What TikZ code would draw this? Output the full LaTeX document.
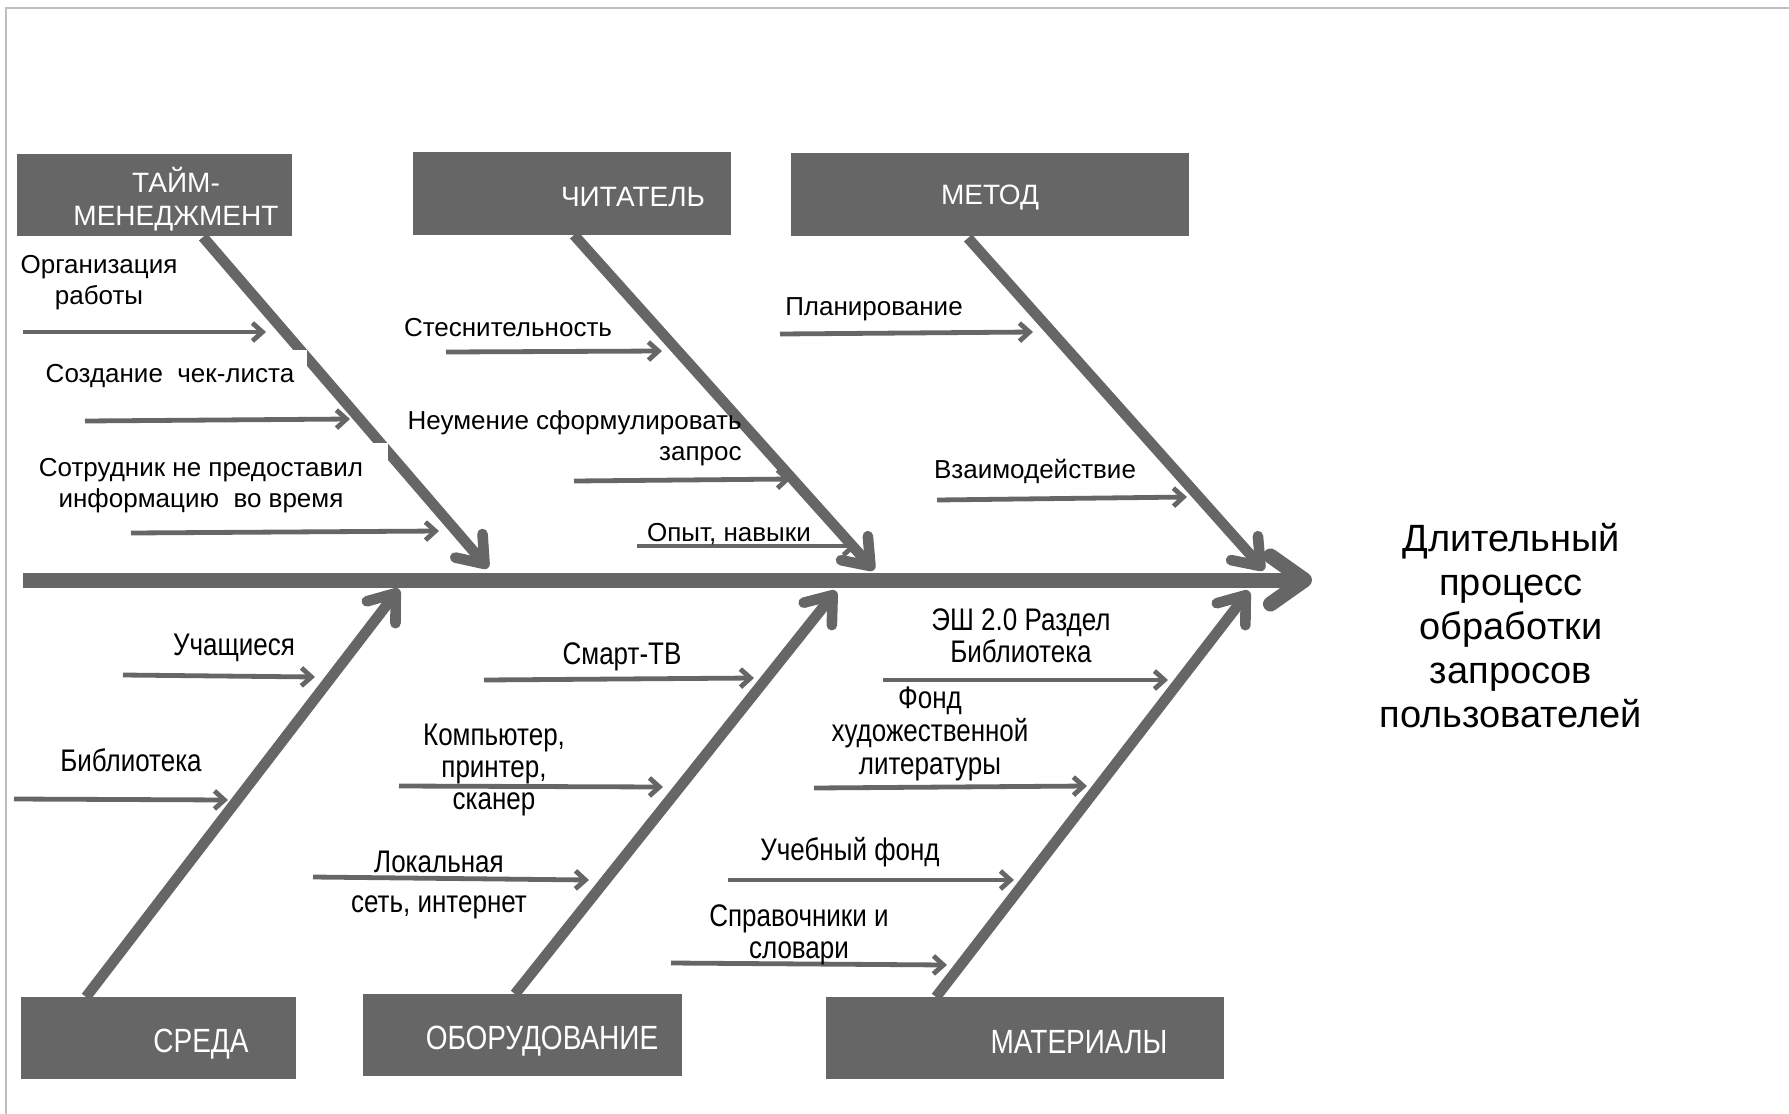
\documentclass[tikz,border=0pt]{standalone}
\usepackage{fontspec}
\usepackage{graphicx}
\setmainfont{Liberation Sans}
\usetikzlibrary{arrows.meta}
\definecolor{bone}{HTML}{666666}
\definecolor{framecol}{HTML}{BFBFBF}
\newcommand{\tallc}[1]{\scalebox{1}[1.2]{\begin{tabular}{@{}c@{}}#1\end{tabular}}}
\begin{document}
\begin{tikzpicture}[x=0.5pt,y=-0.5pt,
  catbox/.style={fill=bone, draw=none, inner sep=0pt},
  cattext/.style={text=white, font=\fontsize{14}{16.5}\selectfont, align=center, inner sep=0pt},
  tallcat/.style={text=white, font=\fontsize{14}{14}\selectfont, inner sep=0pt},
  causetext/.style={font=\fontsize{13}{15.5}\selectfont, align=center, inner sep=0pt},
  tallcause/.style={font=\fontsize{13}{13.5}\selectfont, inner sep=0pt},
  spinestyle/.style={draw=bone, line width=7.5pt, -{Straight Barb[length=17pt,width=24pt,round]}},
  bonestyle/.style={draw=bone, line width=5.3pt, -{Straight Barb[length=12pt,width=18pt,round]}},
  substyle/.style={draw=bone, line width=2.4pt, -{Straight Barb[length=5pt,width=9pt]}},
]
\useasboundingbox (0,0) rectangle (1789,1114);
\fill[white] (0,0) rectangle (1789,1114);
\draw[framecol, line width=1pt] (6,1114) -- (6,8) -- (1789,8);

% spine
\coordinate (spL) at (23,580);
\coordinate (spR) at (1312,580);
\draw[spinestyle] (spL) -- (spR);

% bone coordinates
\coordinate (As) at (203,237); \coordinate (Ae) at (488,568);
\coordinate (Bs) at (574,235); \coordinate (Be) at (874,570);
\coordinate (Cs) at (968,238); \coordinate (Ce) at (1264,570);
\coordinate (Ds) at (86,997);  \coordinate (De) at (399,589);
\coordinate (Es) at (515,994); \coordinate (Ee) at (836,591);
\coordinate (Fs) at (936,997); \coordinate (Fe) at (1249,591);
\draw[bonestyle] (As) -- (Ae);
\draw[bonestyle] (Bs) -- (Be);
\draw[bonestyle] (Cs) -- (Ce);
\draw[bonestyle] (Ds) -- (De);
\draw[bonestyle] (Es) -- (Ee);
\draw[bonestyle] (Fs) -- (Fe);

% white cuts in the first bone
\fill[white] (40,350) rectangle (307,395);
\fill[white] (30,443) rectangle (388,510);

% category boxes
\node[catbox, minimum width=137.5pt, minimum height=41pt] (bT) at (154.5,195) {};
\node[catbox, minimum width=159pt, minimum height=41.5pt] (bR) at (572,193.5) {};
\node[catbox, minimum width=199pt, minimum height=41.5pt] (bM) at (990,194.5) {};
\node[catbox, minimum width=137.5pt, minimum height=41pt] (bS) at (158.5,1038) {};
\node[catbox, minimum width=159.5pt, minimum height=41pt] (bO) at (522.5,1035) {};
\node[catbox, minimum width=199pt, minimum height=41pt] (bMa) at (1025,1038) {};

\node[cattext] (tT) at (176,199) {ТАЙМ-\\МЕНЕДЖМЕНТ};
\node[cattext] (tR) at (633,197) {ЧИТАТЕЛЬ};
\node[cattext] (tM) at (990,198) {МЕТОД};
\node[tallcat] (tS) at (201,1044) {\scalebox{1}[1.2]{СРЕДА}};
\node[tallcat] (tO) at (542,1041) {\scalebox{1}[1.2]{ОБОРУДОВАНИЕ}};
\node[tallcat] (tMa) at (1079,1042) {\scalebox{1}[1.2]{МАТЕРИАЛЫ}};

% sub-cause arrows
\coordinate (a1) at (23,332);  \coordinate (b1) at (266,332);
\coordinate (a2) at (85,421);  \coordinate (b2) at (350,419);
\coordinate (a3) at (131,533); \coordinate (b3) at (439,531);
\coordinate (a4) at (446,352); \coordinate (b4) at (662,351);
\coordinate (a5) at (574,481); \coordinate (b5) at (791,479);
\coordinate (a6) at (637,546); \coordinate (b6) at (857,546);
\coordinate (a7) at (780,334); \coordinate (b7) at (1033,332);
\coordinate (a8) at (937,500); \coordinate (b8) at (1187,497);
\coordinate (a9) at (123,675); \coordinate (b9) at (315,677);
\coordinate (a10) at (14,799); \coordinate (b10) at (228,800);
\coordinate (a11) at (484,680); \coordinate (b11) at (754,678);
\coordinate (a12) at (399,786); \coordinate (b12) at (663,787);
\coordinate (a13) at (313,877); \coordinate (b13) at (589,880);
\coordinate (a14) at (883,680); \coordinate (b14) at (1168,680);
\coordinate (a15) at (814,788); \coordinate (b15) at (1087,786);
\coordinate (a16) at (728,880); \coordinate (b16) at (1014,880);
\coordinate (a17) at (671,963); \coordinate (b17) at (947,965);
\foreach \i in {1,...,17} { \draw[substyle] (a\i) -- (b\i); }

% sub-cause texts
\node[causetext] (c1) at (99,283) {Организация\\работы};
\node[causetext] (c2) at (170,376) {Создание\ \ чек-листа};
\node[causetext] (c3) at (201,486) {Сотрудник не предоставил\\информацию\ \ во время};
\node[causetext] (c4) at (508,328) {Стеснительность};
\node[causetext, align=right, anchor=east] (c5) at (742,438) {Неумение сформулировать\\запрос};
\node[causetext] (c6) at (729,534) {Опыт, навыки};
\node[causetext] (c7) at (874,309) {Планирование};
\node[causetext] (c8) at (1035,471) {Взаимодействие};
\node[tallcause] (c9) at (234,649) {\tallc{Учащиеся}};
\node[tallcause] (c10) at (131,765) {\tallc{Библиотека}};
\node[tallcause] (c11) at (622,658) {\tallc{Смарт-ТВ}};
\node[tallcause] (c12) at (494,771) {\tallc{Компьютер,\\принтер,\\сканер}};
\node[tallcause] (c13) at (439,886) {\tallc{Локальная\\[3pt]сеть, интернет}};
\node[tallcause] (c14) at (1021,640) {\tallc{ЭШ 2.0 Раздел\\Библиотека}};
\node[tallcause] (c15) at (930,735) {\tallc{Фонд\\художественной\\литературы}};
\node[tallcause] (c16) at (850,854) {\tallc{Учебный фонд}};
\node[tallcause] (c17) at (799,936) {\tallc{Справочники и\\словари}};

% effect
\node[font=\fontsize{19}{22}\selectfont, align=center, inner sep=0pt] (title) at (1511,626)
  {Длительный\\процесс\\обработки\\запросов\\пользователей};
\end{tikzpicture}
\end{document}
